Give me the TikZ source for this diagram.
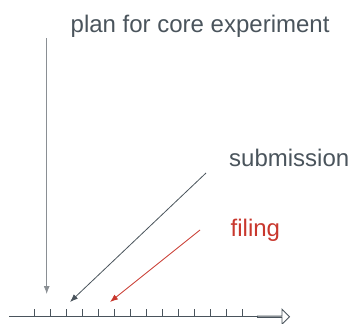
\documentclass[tikz,border=0pt]{standalone}
\usepackage{fontspec}
\setmainfont{Liberation Sans}
\usetikzlibrary{arrows.meta,shapes.arrows}
\definecolor{inkgray}{HTML}{4A545C}
\definecolor{linegray}{HTML}{8A8F94}
\definecolor{inkred}{HTML}{C8372D}
\tikzset{
  label text/.style={font=\fontsize{24}{27}\selectfont, anchor=base west, inner sep=0pt, text=inkgray},
  pointer/.style={line width=0.8pt, -{Latex[length=8pt,width=6pt]}},
  tickmark/.style={line width=0.8pt, draw=inkgray},
}
\begin{document}
\begin{tikzpicture}[x=1pt,y=-1pt]
\useasboundingbox (0,0) rectangle (351,324);
% time axis
\coordinate (axisL) at (9,316.7);
\coordinate (axisR) at (258,316.7);
\draw[line width=0.8pt, draw=inkgray] (axisL) -- (axisR);
\foreach \i in {0,...,13}{
  \draw[tickmark] (34.3+16*\i,316.7) -- ++(0,-7.5);
}
% hollow block arrow at the end of the axis
\node[single arrow, draw=inkgray, fill=white, line width=0.8pt,
      minimum height=32pt, minimum width=15pt, single arrow head extend=4pt,
      single arrow head indent=0pt, single arrow tip angle=90,
      inner sep=0pt, outer sep=0pt, anchor=west] (timearrow) at (257.5,316.7) {};
% labels
\node[label text] (plan) at (70.5,32.7) {plan for core experiment};
\node[label text] (sub) at (229,166) {submission};
\node[label text, text=inkred] (fil) at (230.5,236) {filing};
% pointers onto the axis
\coordinate (planStart) at (46.7,38);
\coordinate (planTip) at (46.7,294);
\draw[pointer, draw=linegray, fill=inkgray] (planStart) -- (planTip);
\coordinate (subStart) at (206,173);
\coordinate (subTip) at (70,302);
\draw[pointer, draw=inkgray] (subStart) -- (subTip);
\coordinate (filStart) at (200,230);
\coordinate (filTip) at (110,302);
\draw[pointer, draw=inkred] (filStart) -- (filTip);
\end{tikzpicture}
\end{document}
